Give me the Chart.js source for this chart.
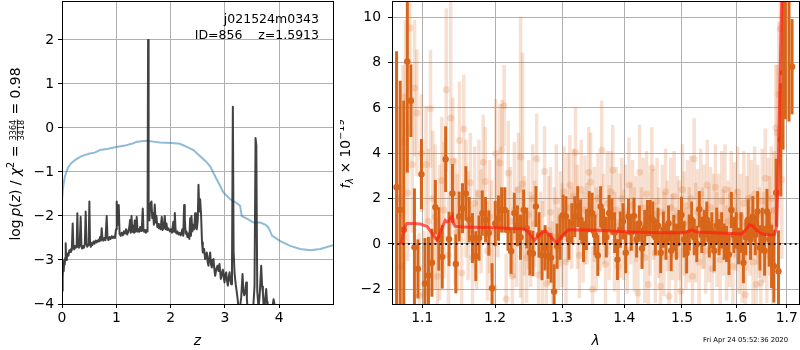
<!doctype html>
<html lang="en">
<head>
<meta charset="utf-8" />
<title>j021524m0343 ID=856</title>
<script src="https://cdn.jsdelivr.net/npm/chart.js@4.4.3/dist/chart.umd.min.js"></script>
<style>
  html, body { margin: 0; padding: 0; background: #fff; }
  body { width: 800px; height: 350px; position: relative; overflow: hidden; }
  .panel { position: absolute; top: 0; }
  #pzWrap { left: 0; width: 345px; height: 350px; }
  #specWrap { left: 340px; width: 460px; height: 350px; }
</style>
</head>
<body>
<div class="panel" id="pzWrap"><canvas id="pzChart" width="345" height="350"></canvas></div>
<div class="panel" id="specWrap"><canvas id="specChart" width="460" height="350"></canvas></div>
<script>
// ---- p(z) panel ----
const pzZ = [0.000,0.008,0.016,0.024,0.032,0.040,0.050,0.060,0.068,0.076,
  0.090,0.105,0.120,0.135,0.150,0.165,0.180,0.197,0.210,0.225,
  0.240,0.255,0.270,0.283,0.295,0.310,0.325,0.344,0.358,0.372,
  0.390,0.405,0.420,0.436,0.450,0.465,0.480,0.492,0.504,0.516,
  0.530,0.545,0.560,0.580,0.600,0.620,0.640,0.660,0.680,0.700,
  0.716,0.731,0.745,0.760,0.780,0.800,0.823,0.838,0.855,0.875,
  0.895,0.915,0.935,0.955,0.975,0.995,1.008,1.020,1.033,1.045,
  1.060,1.080,1.100,1.120,1.140,1.160,1.180,1.200,1.220,1.240,
  1.253,1.265,1.280,1.295,1.310,1.325,1.340,1.355,1.376,1.390,
  1.405,1.420,1.440,1.455,1.470,1.487,1.500,1.515,1.530,1.545,
  1.560,1.575,1.585,1.595,1.610,1.625,1.647,1.662,1.677,1.692,
  1.708,1.725,1.739,1.755,1.770,1.785,1.800,1.815,1.837,1.852,
  1.870,1.892,1.908,1.923,1.940,1.960,1.985,2.005,2.025,2.050,
  2.065,2.077,2.092,2.108,2.125,2.145,2.165,2.185,2.200,2.215,
  2.232,2.249,2.261,2.276,2.292,2.310,2.330,2.345,2.360,2.375,
  2.384,2.400,2.420,2.435,2.451,2.466,2.482,2.500,2.513,2.528,
  2.544,2.562,2.578,2.593,2.617,2.636,2.652,2.667,2.682,2.697,
  2.712,2.728,2.744,2.759,2.775,2.789,2.805,2.821,2.842,2.864,
  2.882,2.900,2.925,2.945,2.962,2.978,2.993,3.008,3.023,3.040,
  3.054,3.070,3.085,3.100,3.115,3.130,3.146,3.160,3.177,3.198,
  3.220,3.235,3.250,3.265,3.280,3.300,3.324,3.340,3.355,3.375,
  3.392,3.405,3.417,3.440,3.466,3.496,3.520,3.545,3.564,3.578,
  3.595,3.619,3.640,3.668,3.685,3.699,3.712,3.724,3.740,3.760,
  3.775,3.785,3.822,3.860,3.896,3.926,3.960,4.050];
const pzLog = [-3.70,-3.25,-3.40,-3.05,-3.25,-3.00,-3.10,-2.95,-2.62,-3.00,
  -2.92,-2.85,-2.90,-2.78,-2.82,-2.75,-2.78,-2.17,-2.72,-2.76,
  -2.68,-2.72,-2.70,-1.94,-2.70,-2.72,-2.66,-2.02,-2.70,-2.74,
  -2.68,-2.72,-2.64,-1.90,-2.62,-2.70,-2.66,-2.58,-1.67,-2.60,
  -2.70,-2.62,-2.66,-2.58,-2.63,-2.56,-2.60,-2.55,-2.58,-2.48,
  -2.56,-2.28,-2.52,-2.56,-2.50,-2.55,-2.00,-2.50,-2.55,-2.48,
  -2.52,-2.46,-2.50,-2.47,-2.50,-2.30,-1.67,-2.10,-2.20,-1.75,
  -2.40,-2.45,-2.38,-2.44,-2.35,-2.40,-2.30,-2.42,-2.36,-2.25,
  -2.09,-2.38,-2.00,-2.36,-2.22,-2.38,-2.10,-2.36,-2.02,-2.35,
  -2.30,-2.36,-2.25,-2.34,-2.28,-1.83,-2.30,-2.36,-2.32,-2.38,
  -2.33,-2.35,2.00,-1.95,-2.10,-1.72,-1.67,-2.05,-1.93,-2.20,
  -1.74,-2.15,-2.00,-2.25,-2.18,-2.28,-2.23,-2.30,-2.02,-2.32,
  -2.28,-2.00,-2.30,-2.17,-2.32,-2.28,-2.35,-2.30,-2.38,-2.13,
  -2.36,-1.93,-2.33,-2.40,-2.35,-2.42,-2.38,-2.44,-2.39,-2.30,
  -2.45,-1.75,-2.05,-2.40,-2.35,-2.48,-2.40,-2.52,-2.05,-2.45,
  -2.00,-2.35,-2.20,-2.30,-1.94,-2.25,-2.30,-2.10,-1.29,-1.90,
  -1.62,-2.00,-2.60,-2.83,-2.75,-2.98,-2.85,-2.83,-3.05,-3.13,
  -2.95,-2.83,-3.10,-3.17,-3.00,-2.98,-3.20,-3.36,-3.20,-3.13,
  -3.25,-3.09,-3.43,-3.30,-3.22,-3.40,-3.51,-3.32,-3.28,-3.48,
  -3.58,-3.40,-3.28,-3.45,-3.55,-3.20,0.48,-2.80,-3.30,-3.55,
  -3.74,-3.90,-4.10,-4.20,-4.05,-3.85,-3.32,-3.70,-3.80,-3.70,
  -3.51,-3.90,-4.10,-4.30,-4.20,-4.20,-4.10,-3.60,-0.23,-0.40,
  -3.70,-4.10,-3.80,-3.13,-3.60,-3.74,-4.05,-4.20,-3.90,-3.66,
  -3.95,-4.10,-4.10,-4.20,-3.89,-4.10,-4.40,-4.80];

// chi2 curve, scaled onto the same axis
const chiZ = [0,0.02,0.05,0.08,0.12,0.17,0.25,0.36,0.51,0.6,
  0.7,0.85,1.0,1.16,1.28,1.37,1.45,1.56,1.68,1.80,
  2.02,2.17,2.30,2.42,2.544,2.65,2.728,2.85,2.975,3.097,
  3.22,3.28,3.31,3.404,3.527,3.65,3.75,3.80,3.87,4.02,
  4.2,4.387,4.57,4.755,5.0];
const chiLog = [-1.63,-1.35,-1.12,-1.0,-0.88,-0.8,-0.72,-0.64,-0.58,-0.56,
  -0.5,-0.47,-0.43,-0.4,-0.36,-0.32,-0.3,-0.29,-0.31,-0.33,
  -0.34,-0.36,-0.43,-0.5,-0.64,-0.76,-0.87,-1.17,-1.47,-1.62,
  -1.71,-1.77,-2.0,-2.06,-2.15,-2.15,-2.2,-2.26,-2.45,-2.57,
  -2.68,-2.75,-2.78,-2.75,-2.66];

const zTicks = [0, 1, 2, 3, 4];
const logTicks = [-4, -3, -2, -1, 0, 1, 2];

// ---- spectrum panel ----
const darkWave = [1.0668,1.0714,1.0760,1.0806,1.0852,1.0898,1.0944,1.0990,1.1036,1.1082,
  1.1128,1.1174,1.1220,1.1266,1.1312,1.1358,1.1404,1.1450,1.1496,1.1542,
  1.1588,1.1634,1.1680,1.1726,1.1772,1.1818,1.1864,1.1910,1.1956,1.2002,
  1.2048,1.2094,1.2140,1.2186,1.2232,1.2278,1.2324,1.2370,1.2416,1.2462,
  1.2508,1.2554,1.2600,1.2646,1.2692,1.2738,1.2784,1.2830,1.2876,1.2922,
  1.2968,1.3014,1.3060,1.3106,1.3152,1.3198,1.3244,1.3290,1.3336,1.3382,
  1.3428,1.3474,1.3520,1.3566,1.3612,1.3658,1.3704,1.3750,1.3796,1.3842,
  1.3888,1.3934,1.3980,1.4026,1.4072,1.4118,1.4164,1.4210,1.4256,1.4302,
  1.4348,1.4394,1.4440,1.4486,1.4532,1.4578,1.4624,1.4670,1.4716,1.4762,
  1.4808,1.4854,1.4900,1.4946,1.4992,1.5038,1.5084,1.5130,1.5176,1.5222,
  1.5268,1.5314,1.5360,1.5406,1.5452,1.5498,1.5544,1.5590,1.5636,1.5682,
  1.5728,1.5774,1.5820,1.5866,1.5912,1.5958,1.6004,1.6050,1.6096,1.6142,
  1.6188,1.6234,1.6280,1.6326,1.6372,1.6418,1.6464,1.6510,1.6556,1.6602,
  1.6648,1.6694,1.6740,1.6786,1.6832,1.6878,1.6924,1.6970,1.7045,1.7108];
const darkFlux = [2.5,1.5,0.63,8.05,6.32,-0.15,-1.1,3.08,-1.74,-1.39,
  -0.83,1.62,0.22,-0.57,3.74,0.22,2.23,-0.88,1.21,1.58,
  2.23,1.07,0.26,-0.54,0.26,1.36,1.07,0.48,-1.95,0.9,
  1.14,1.5,1.5,0.6,-0.32,1.36,0.8,0.3,1.5,0.7,
  -0.39,-0.42,1.65,0.4,-0.5,-0.17,-0.54,-0.61,-2.1,-0.1,
  0.3,1.28,1.21,0.2,0.9,1.2,1.65,1.07,0.1,0.63,
  1.43,1.36,0.4,-0.51,1.65,0.77,0.3,1.36,1.21,0.5,
  -0.69,0.63,1.0,-0.39,1.21,0.5,1.24,0.2,0.9,-0.2,
  0.7,1.14,1.14,1.07,0.3,0.8,-0.39,0.63,0.1,0.9,
  -0.3,0.48,0.1,0.7,1.28,0.2,-0.4,0.5,1.07,0.3,
  0.0,1.53,0.4,0.7,1.07,0.2,0.6,-0.3,0.8,0.3,
  0.6,0.1,0.0,-0.47,1.5,0.4,0.6,-0.1,0.5,-0.83,
  0.3,1.07,0.2,1.21,0.4,1.43,-0.17,0.6,-0.3,1.43,
  0.2,-0.55,-0.98,2.26,-1.2,4.6,7.56,11.6,12.0,7.82];
const darkErr = [6.0,5.7,5.7,4.9,1.6,2.6,1.3,1.55,2.0,1.7,
  1.5,1.2,1.4,1.4,1.45,1.2,1.3,1.3,1.1,1.1,
  1.2,1.0,1.1,1.1,1.0,1.0,1.0,1.0,1.1,1.0,
  1.0,1.0,1.0,0.9,1.0,0.9,0.9,1.0,0.9,0.9,
  1.0,1.0,0.9,1.0,1.1,1.0,1.0,1.1,1.2,1.0,
  1.0,0.9,0.9,0.9,0.9,0.9,0.9,0.9,0.9,0.9,
  0.9,0.9,0.9,0.9,0.9,0.8,0.9,0.8,0.8,0.9,
  0.9,0.8,0.8,0.9,0.8,0.8,0.8,0.8,0.8,0.9,
  0.8,0.8,0.8,0.8,0.8,0.8,0.9,0.8,0.8,0.8,
  0.9,0.8,0.8,0.8,0.8,0.8,0.9,0.8,0.8,0.8,
  0.8,0.8,0.8,0.8,0.8,0.8,0.8,0.9,0.8,0.8,
  0.8,0.8,0.8,0.9,0.8,0.8,0.8,0.8,0.9,0.9,
  0.8,0.9,0.9,0.9,0.9,0.9,1.0,1.0,1.1,1.0,
  1.2,1.4,1.6,1.5,1.8,2.5,3.4,6.1,6.6,2.1];

const lightWave = [1.069,1.072,1.075,1.078,1.081,1.084,1.087,1.090,1.093,1.096,
  1.099,1.102,1.105,1.108,1.111,1.114,1.117,1.120,1.123,1.126,
  1.129,1.132,1.135,1.138,1.141,1.144,1.147,1.150,1.153,1.156,
  1.159,1.162,1.165,1.168,1.171,1.174,1.177,1.180,1.183,1.186,
  1.189,1.192,1.195,1.198,1.201,1.204,1.207,1.210,1.213,1.216,
  1.219,1.222,1.225,1.228,1.231,1.234,1.237,1.240,1.243,1.246,
  1.249,1.252,1.255,1.258,1.261,1.264,1.267,1.270,1.273,1.276,
  1.279,1.282,1.285,1.288,1.291,1.294,1.297,1.300,1.303,1.306,
  1.309,1.312,1.315,1.318,1.321,1.324,1.327,1.330,1.333,1.336,
  1.339,1.342,1.345,1.348,1.351,1.354,1.357,1.360,1.363,1.366,
  1.369,1.372,1.375,1.378,1.381,1.384,1.387,1.390,1.393,1.396,
  1.399,1.402,1.405,1.408,1.411,1.414,1.417,1.420,1.423,1.426,
  1.429,1.432,1.435,1.438,1.441,1.444,1.447,1.450,1.453,1.456,
  1.459,1.462,1.465,1.468,1.471,1.474,1.477,1.480,1.483,1.486,
  1.489,1.492,1.495,1.498,1.501,1.504,1.507,1.510,1.513,1.516,
  1.519,1.522,1.525,1.528,1.531,1.534,1.537,1.540,1.543,1.546,
  1.549,1.552,1.555,1.558,1.561,1.564,1.567,1.570,1.573,1.576,
  1.579,1.582,1.585,1.588,1.591,1.594,1.597,1.600,1.603,1.606,
  1.609,1.612,1.615,1.618,1.621,1.624,1.627,1.630,1.633,1.636,
  1.639,1.642,1.645,1.648,1.651,1.654,1.657,1.660,1.663,1.666,
  1.669,1.672,1.675,1.678,1.681,1.684,1.687,1.690,1.693];
const lightFlux = [2.0,-1.0,4.5,6.49,2.25,9.53,3.5,6.88,5.78,-2.3,
  4.0,-2.2,3.5,1.0,5.97,2.0,1.2,-1.43,0.5,2.8,
  1.5,6.8,-0.5,5.56,3.65,1.0,0.5,4.56,-1.28,5.07,
  2.0,0.8,2.7,-0.6,1.8,0.2,2.2,1.0,3.6,2.76,
  -0.3,1.2,0.6,-1.94,3.99,1.6,3.57,4.16,6.1,-2.43,
  3.13,1.0,-1.43,1.5,0.3,2.4,3.84,2.65,0.8,-0.6,
  1.3,0.2,2.0,0.9,3.75,-1.37,0.5,-0.4,3.2,-1.76,
  0.6,1.4,-0.9,0.3,1.9,-0.2,1.1,0.4,2.3,-0.8,
  1.6,2.6,0.7,2.1,4.04,1.2,-0.5,2.4,0.3,1.5,
  0.9,3.16,2.72,-2.0,1.3,0.2,2.0,0.6,4.13,1.1,
  -0.9,1.8,0.5,2.3,3.25,0.1,1.5,-1.0,0.8,2.0,
  0.4,1.3,-0.3,2.6,0.9,1.7,0.2,1.1,-2.16,3.16,
  0.7,1.6,-0.6,2.2,-1.79,0.9,3.35,1.3,-0.4,1.9,
  0.5,-1.87,1.4,0.0,2.3,0.8,-2.31,1.6,0.3,2.1,
  -0.5,1.2,0.6,-2.09,2.4,0.9,-0.2,1.7,0.4,2.0,
  -1.43,3.75,0.5,1.4,-0.8,2.2,0.7,1.2,-0.3,2.6,
  0.4,1.6,-1.1,0.9,2.5,0.2,1.3,-0.7,1.9,0.5,
  2.4,-0.4,1.0,0.3,2.1,-1.0,1.5,0.6,2.3,0.0,
  1.2,-0.6,1.8,-2.24,0.9,2.0,0.4,1.5,-0.8,2.2,
  -1.79,1.3,0.5,-1.72,1.9,0.3,2.9,-0.5,1.4,0.8,
  2.0,-0.9,1.5,5.12,4.9,6.6,9.5,2.84,11.5];
const lightErr = [4.0,3.6,3.4,3.4,3.0,2.8,3.0,3.0,2.8,2.8,
  2.6,2.8,2.6,3.2,2.6,3.0,3.2,2.6,3.0,2.8,
  3.0,3.6,2.8,5.2,2.8,2.8,2.6,2.6,2.5,2.4,
  2.6,2.4,2.2,2.3,2.5,2.2,2.4,2.3,2.1,2.4,
  2.2,2.5,2.2,2.0,2.4,2.2,2.6,2.2,1.8,2.0,
  2.3,2.4,2.0,3.0,2.2,2.5,6.2,5.8,2.2,2.0,
  2.4,2.1,2.4,1.9,2.0,2.2,1.8,2.3,2.0,2.1,
  2.4,2.0,1.9,2.2,2.5,1.8,2.1,2.3,2.0,1.9,
  2.4,2.2,1.8,2.1,2.0,2.3,1.9,2.2,2.0,2.4,
  1.8,2.0,2.2,1.9,2.1,2.3,2.0,1.8,2.2,2.0,
  1.9,2.3,2.1,1.8,2.0,2.2,1.9,2.1,2.3,1.8,
  2.0,2.2,1.9,2.1,1.8,2.0,2.3,1.9,2.0,2.1,
  1.8,2.2,2.0,1.9,2.1,2.3,1.8,2.0,2.2,1.9,
  2.0,1.8,2.1,2.3,1.9,2.0,1.8,2.2,1.9,2.0,
  2.1,1.8,2.2,1.9,2.0,2.3,1.8,2.0,2.1,1.9,
  2.0,1.8,2.2,1.9,2.1,2.0,1.8,2.3,1.9,2.0,
  2.1,1.8,2.0,2.2,1.9,2.1,1.8,2.0,2.2,1.9,
  2.0,2.1,1.8,2.2,2.0,1.9,2.1,1.8,2.0,2.2,
  1.9,2.0,2.3,1.9,2.1,2.0,1.8,2.2,2.0,2.1,
  1.9,2.2,2.0,2.1,2.3,2.0,2.2,2.1,2.4,2.2,
  2.3,2.5,2.6,2.8,3.0,3.2,3.4,3.5,3.8];

// best-fit template
const modelWave = [1.0728,1.0765,1.0801,1.0890,1.0974,1.1062,1.1128,1.1165,1.1195,1.1225,
  1.1252,1.1306,1.1330,1.1351,1.1380,1.1401,1.1420,1.1442,1.1556,1.2026,
  1.2414,1.2470,1.2513,1.2578,1.2650,1.2740,1.2830,1.2919,1.3000,1.3099,
  1.3550,1.4100,1.4672,1.5026,1.5120,1.5177,1.5230,1.5268,1.6111,1.6180,
  1.6258,1.6330,1.6402,1.6500,1.6599,1.6750,1.6798,1.6830,1.6865,1.6899,1.6960];
const modelFlux = [0.0,0.7,0.9,0.9,0.88,0.78,0.49,0.3,0.19,0.35,
  0.63,1.04,0.98,1.0,1.15,1.25,0.9,0.78,0.75,0.71,
  0.66,0.58,0.41,0.16,0.4,0.59,0.3,0.04,0.35,0.63,
  0.6,0.53,0.49,0.49,0.56,0.63,0.56,0.53,0.44,0.6,
  0.85,0.78,0.59,0.45,0.41,0.41,0.78,3.43,7.4,10.8,20];

const waveTicks = [1.1, 1.2, 1.3, 1.4, 1.5, 1.6, 1.7];
const fluxTicks = [-2, 0, 2, 4, 6, 8, 10];

const FONT = '"DejaVu Sans"';
const TICK_PX = 13.9;
const ORANGE = 'rgb(216,102,26)';
const ORANGE_LIGHT = 'rgba(216,102,26,0.2)';

Chart.defaults.font.family = FONT;
Chart.defaults.color = '#000';

const pts = (xs, ys) => xs.map((x, i) => ({ x, y: ys[i] }));
const minus = (v) => String(v).replace('-', '\u2212');

function axisStyle() {
  return {
    grid: { color: '#b0b0b0', lineWidth: 1, tickColor: '#000', tickLength: 4, tickWidth: 1 },
    border: { color: '#000', width: 1 },
  };
}

// fixed axis box sizes, no extra room for overhanging end labels
function fixBox(size) {
  return (s) => {
    if (s.isHorizontal()) s.height = size; else s.width = size;
    s.paddingTop = 0; s.paddingBottom = 0; s.paddingLeft = 0; s.paddingRight = 0;
  };
}

// draws a row of text pieces centred on (cx, cy); baseline at cy (or cx when rotated)
function drawRich(ctx, pieces, cx, cy, rotate) {
  let total = 0;
  for (const p of pieces) {
    ctx.font = p.font;
    p.w = p.measure ? p.measure(ctx) : ctx.measureText(p.text).width;
    total += p.w;
  }
  ctx.save();
  ctx.translate(cx, cy);
  if (rotate) ctx.rotate(-Math.PI / 2);
  ctx.fillStyle = '#000';
  ctx.textAlign = 'left';
  ctx.textBaseline = 'alphabetic';
  let x = -total / 2;
  for (const p of pieces) {
    ctx.font = p.font;
    if (p.draw) p.draw(ctx, x);
    else ctx.fillText(p.text, x, p.dy || 0);
    x += p.w;
  }
  ctx.restore();
}

const f = (size, italic) => (italic ? 'italic ' : '') + size + 'px ' + FONT;

// vertical error bars for any dataset carrying an `errors` array
const errorBars = {
  id: 'errorBars',
  beforeDatasetDraw(chart, args) {
    const ds = chart.data.datasets[args.index];
    if (!ds.errors) return;
    const { ctx, chartArea: a, scales: { x, y } } = chart;
    ctx.save();
    ctx.beginPath();
    ctx.rect(a.left, a.top, a.width, a.height);
    ctx.clip();
    ctx.strokeStyle = ds.barColor;
    ctx.lineWidth = ds.barWidth;
    ds.data.forEach((p, i) => {
      const px = x.getPixelForValue(p.x);
      ctx.beginPath();
      ctx.moveTo(px, y.getPixelForValue(p.y - ds.errors[i]));
      ctx.lineTo(px, y.getPixelForValue(p.y + ds.errors[i]));
      ctx.stroke();
    });
    ctx.restore();
  },
};

const frame = {
  id: 'frame',
  afterDatasetsDraw(chart) {
    const { ctx, chartArea: a } = chart;
    const al = (v) => Math.round(v - 0.5) + 0.5;
    ctx.save();
    ctx.strokeStyle = '#000';
    ctx.lineWidth = 1;
    ctx.strokeRect(al(a.left), al(a.top), al(a.right) - al(a.left), al(a.bottom) - al(a.top));
    ctx.restore();
  },
};

const pzLabels = {
  id: 'pzLabels',
  afterDraw(chart) {
    const { ctx, chartArea: a } = chart;
    drawRich(ctx, [{ text: 'z', font: f(TICK_PX, true) }], (a.left + a.right) / 2, 345, false);
    // y title with the chi2 fraction
    const small = f(8, false);
    const frac = {
      font: small,
      measure(c) { c.font = small; return Math.max(c.measureText('3364').width, c.measureText('3418').width) + 2; },
      draw(c, x0) {
        c.font = small;
        const w = this.w;
        c.textAlign = 'center';
        c.fillText('3364', x0 + w / 2, -3.4);
        c.fillText('3418', x0 + w / 2, 4.4);
        c.textAlign = 'left';
        c.fillRect(x0 + 0.5, -2.6, w - 1, 0.8);
      },
    };
    drawRich(ctx, [
      { text: 'log\u2009', font: f(TICK_PX, false) },
      { text: 'p', font: f(TICK_PX, true) },
      { text: '(', font: f(TICK_PX, false) },
      { text: 'z', font: f(TICK_PX, true) },
      { text: ') / ', font: f(TICK_PX, false) },
      { text: '\u03c7', font: f(TICK_PX, true) },
      { text: '2', font: f(9.7, false), dy: -5.5 },
      { text: ' = ', font: f(TICK_PX, false) },
      frac,
      { text: ' = 0.98', font: f(TICK_PX, false) },
    ], 19.5, 154, true);
    ctx.save();
    ctx.font = f(12.5, false);
    ctx.fillStyle = '#000';
    ctx.textAlign = 'right';
    ctx.textBaseline = 'alphabetic';
    ctx.fillText('j021524m0343', 319, 23);
    ctx.fillText('ID=856    z=1.5913', 319, 39);
    ctx.restore();
  },
};

const specLabels = {
  id: 'specLabels',
  afterDatasetsDraw(chart) {
    const { ctx, chartArea: a, scales: { y } } = chart;
    // dotted zero level
    const y0 = y.getPixelForValue(0);
    ctx.save();
    ctx.beginPath();
    ctx.rect(a.left, a.top, a.width, a.height);
    ctx.clip();
    ctx.strokeStyle = 'rgba(0,0,0,0.85)';
    ctx.lineWidth = 2;
    ctx.setLineDash([2, 3.3]);
    ctx.beginPath();
    ctx.moveTo(a.left, y0);
    ctx.lineTo(a.right, y0);
    ctx.stroke();
    ctx.restore();
  },
  afterDraw(chart) {
    const { ctx, chartArea: a } = chart;
    drawRich(ctx, [{ text: '\u03bb', font: f(TICK_PX, true) }], (a.left + a.right) / 2, 345, false);
    drawRich(ctx, [
      { text: 'f', font: f(TICK_PX, true) },
      { text: '\u03bb', font: f(9.7, true), dy: 3 },
      { text: ' \u00d7 10', font: f(TICK_PX, false) },
      { text: '\u221219', font: f(9.7, false), dy: -6 },
    ], 9.5, 154, true);
    ctx.save();
    ctx.font = f(6.8, false);
    ctx.fillStyle = '#000';
    ctx.textAlign = 'right';
    ctx.fillText('Fri Apr 24 05:52:36 2020', 448, 342);
    ctx.restore();
  },
};

new Chart(document.getElementById('pzChart'), {
  type: 'scatter',
  data: {
    datasets: [
      { data: pts(pzZ, pzLog), showLine: true, borderColor: 'rgba(45,45,45,0.9)', borderWidth: 2,
        borderJoinStyle: 'round', pointRadius: 0, order: 1 },
      { data: pts(chiZ, chiLog), showLine: true, borderColor: 'rgba(31,119,180,0.5)', borderWidth: 2,
        pointRadius: 0, order: 2 },
    ],
  },
  options: {
    responsive: false,
    animation: false,
    devicePixelRatio: 1,
    layout: { autoPadding: false, padding: { left: 0, right: 12, top: 1, bottom: 0 } },
    plugins: { legend: { display: false }, tooltip: { enabled: false } },
    scales: {
      x: {
        type: 'linear', min: 0, max: 4.99, ...axisStyle(),
        afterBuildTicks: (s) => { s.ticks = zTicks.map((v) => ({ value: v })); },
        afterFit: fixBox(46),
        ticks: { font: { size: TICK_PX }, color: '#000', padding: 2, maxRotation: 0, autoSkip: false, callback: (v) => minus(v) },
      },
      y: {
        type: 'linear', min: -4, max: 2.886, ...axisStyle(),
        afterBuildTicks: (s) => { s.ticks = logTicks.map((v) => ({ value: v })); },
        afterFit: fixBox(62),
        ticks: { font: { size: TICK_PX }, color: '#000', padding: 4, autoSkip: false, callback: (v) => minus(v) },
      },
    },
  },
  plugins: [frame, pzLabels],
});

new Chart(document.getElementById('specChart'), {
  type: 'scatter',
  data: {
    datasets: [
      { data: pts(lightWave, lightFlux), errors: lightErr, barColor: ORANGE_LIGHT, barWidth: 3.5,
        pointRadius: 3.5, pointBackgroundColor: ORANGE_LIGHT, pointBorderWidth: 0, order: 3 },
      { data: pts(darkWave, darkFlux), errors: darkErr, barColor: ORANGE, barWidth: 3,
        pointRadius: 3.2, pointBackgroundColor: ORANGE, pointBorderWidth: 0, order: 2 },
      { data: pts(modelWave, modelFlux), showLine: true, borderColor: 'rgba(255,30,20,0.7)', borderWidth: 3,
        pointRadius: 0, order: 1 },
    ],
  },
  options: {
    responsive: false,
    animation: false,
    devicePixelRatio: 1,
    layout: { autoPadding: false, padding: { left: 0, right: 1, top: 1, bottom: 0 } },
    plugins: { legend: { display: false }, tooltip: { enabled: false } },
    scales: {
      x: {
        type: 'logarithmic', min: 1.061, max: 1.725, bounds: 'data', ...axisStyle(),
        afterBuildTicks: (s) => { s.ticks = waveTicks.map((v) => ({ value: v })); },
        afterFit: fixBox(46),
        ticks: { font: { size: TICK_PX }, color: '#000', padding: 2, maxRotation: 0, autoSkip: false, callback: (v) => Number(v).toFixed(1) },
      },
      y: {
        type: 'linear', min: -2.65, max: 10.72, ...axisStyle(),
        afterBuildTicks: (s) => { s.ticks = fluxTicks.map((v) => ({ value: v })); },
        afterFit: fixBox(52),
        ticks: { font: { size: TICK_PX }, color: '#000', padding: 7, autoSkip: false, callback: (v) => minus(v) },
      },
    },
  },
  plugins: [errorBars, frame, specLabels],
});
</script>
</body>
</html>
